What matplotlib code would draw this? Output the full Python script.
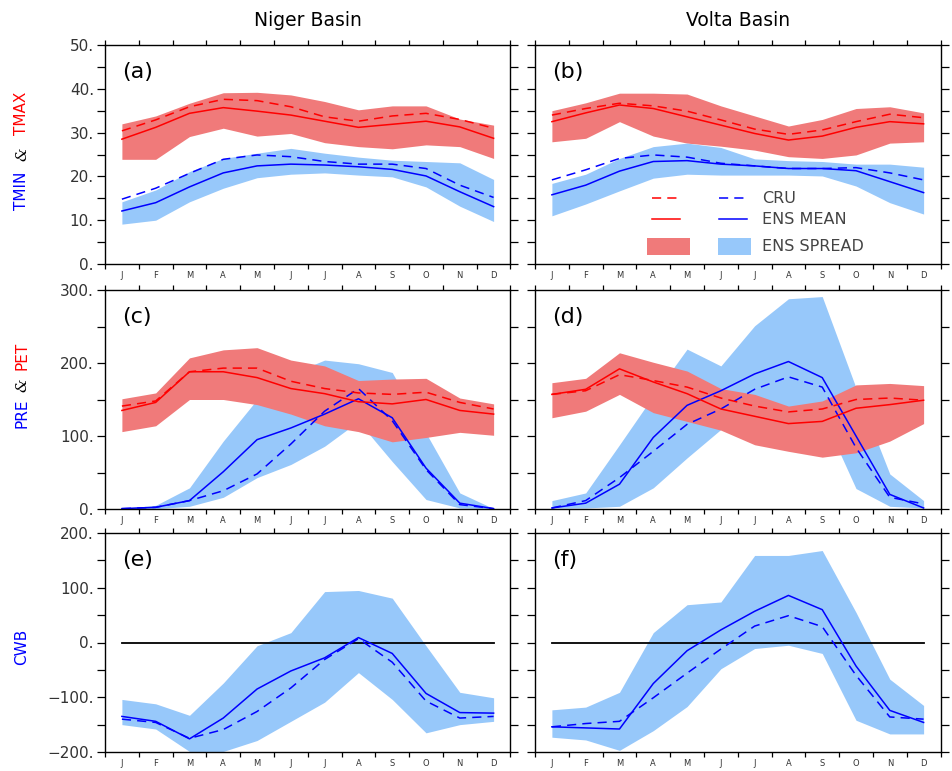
import numpy as np
import matplotlib
matplotlib.use("Agg")
import matplotlib.pyplot as plt
from matplotlib.patches import Rectangle

months = ["J", "F", "M", "A", "M", "J", "J", "A", "S", "O", "N", "D"]

# (a) Niger basin temperature
niger_tmax_cru = [30.4, 32.9, 35.9, 37.6, 37.3, 35.9, 33.6, 32.6, 33.8, 34.4, 33.0, 31.0]
niger_tmax_ens = [28.5, 31.2, 34.4, 35.7, 34.9, 34.0, 32.6, 31.2, 31.9, 32.6, 31.3, 28.7]
niger_tmax_hi = [32.0, 33.8, 36.7, 39.1, 39.2, 38.6, 37.1, 35.2, 36.1, 36.1, 33.1, 31.7]
niger_tmax_lo = [23.9, 23.9, 29.1, 31.0, 29.2, 29.8, 27.7, 26.8, 26.3, 27.2, 26.8, 24.1]
niger_tmin_cru = [14.8, 17.3, 20.7, 23.9, 24.9, 24.5, 23.4, 22.8, 22.8, 21.8, 18.0, 15.2]
niger_tmin_ens = [12.1, 14.0, 17.6, 20.8, 22.4, 22.8, 22.6, 22.2, 21.6, 20.1, 16.5, 13.1]
niger_tmin_hi = [14.2, 16.9, 21.1, 24.1, 25.3, 26.4, 25.3, 24.4, 23.7, 23.4, 23.1, 19.3]
niger_tmin_lo = [9.1, 10.0, 14.2, 17.3, 19.7, 20.5, 20.8, 20.3, 19.9, 17.6, 13.2, 9.7]

# (b) Volta basin temperature
volta_tmax_cru = [34.0, 35.5, 36.7, 36.1, 34.9, 32.9, 30.8, 29.6, 30.6, 32.5, 34.2, 33.4]
volta_tmax_ens = [32.5, 34.5, 36.3, 35.5, 33.6, 31.7, 29.8, 28.3, 29.2, 31.2, 32.5, 32.0]
volta_tmax_hi = [35.0, 36.8, 39.0, 39.0, 38.8, 36.1, 33.8, 31.5, 33.0, 35.5, 35.9, 34.5]
volta_tmax_lo = [27.9, 28.7, 32.5, 29.2, 27.6, 26.9, 26.0, 24.5, 24.1, 24.9, 27.6, 27.9]
volta_tmin_cru = [19.2, 21.5, 24.1, 24.9, 24.4, 23.0, 22.4, 21.8, 21.8, 22.0, 20.8, 19.2]
volta_tmin_ens = [15.8, 18.0, 21.2, 23.4, 23.6, 22.8, 22.4, 21.8, 21.8, 21.3, 18.8, 16.3]
volta_tmin_hi = [18.4, 20.5, 24.1, 26.8, 27.6, 26.6, 24.0, 23.6, 23.4, 22.8, 22.8, 22.1]
volta_tmin_lo = [11.0, 13.7, 16.7, 19.6, 20.5, 20.3, 20.3, 20.3, 20.1, 17.8, 14.0, 11.4]

# (c) Niger basin precipitation and PET
niger_pet_cru = [141, 148, 188, 193, 193, 175, 165, 159, 157, 160, 146, 137]
niger_pet_ens = [135, 146, 188, 188, 180, 165, 158, 147, 144, 150, 135, 130]
niger_pet_hi = [151, 159, 207, 218, 221, 204, 196, 176, 178, 179, 152, 144]
niger_pet_lo = [106, 114, 150, 150, 143, 130, 114, 106, 92, 98, 105, 101]
niger_pre_cru = [0.5, 2.3, 11.5, 25, 48, 89, 134, 165, 121, 54, 6, 0.5]
niger_pre_ens = [0.5, 2.3, 11.5, 51, 95, 111, 130, 151, 125, 56, 8, 0.5]
niger_pre_hi = [0.8, 5, 29, 93, 150, 185, 204, 199, 187, 104, 22, 0.5]
niger_pre_lo = [0.5, 0.5, 3.7, 16, 43, 61, 86, 120, 65, 13, 1.4, 0.5]

# (d) Volta basin precipitation and PET
volta_pet_cru = [157, 162, 184, 176, 167, 152, 141, 133, 137, 150, 152, 149]
volta_pet_ens = [157, 164, 192, 174, 158, 137, 127, 117, 120, 138, 143, 149]
volta_pet_hi = [173, 179, 214, 201, 189, 165, 157, 141, 148, 170, 172, 169]
volta_pet_lo = [125, 134, 157, 132, 120, 108, 88, 79, 71, 77, 93, 117]
volta_pre_cru = [1.4, 11.5, 43, 79, 116, 137, 164, 181, 167, 84, 16, 7]
volta_pre_ens = [1.4, 8, 34, 98, 142, 162, 185, 202, 180, 100, 20, 1.4]
volta_pre_hi = [11.5, 22, 88, 155, 219, 196, 251, 288, 291, 166, 48, 11.5]
volta_pre_lo = [1.4, 1.4, 3.7, 29, 70, 109, 135, 140, 130, 28, 3.7, 1.4]

# (e) Niger basin climatic water balance
niger_cwb_cru = [-140, -146, -175, -159, -126, -83, -31, 7, -36, -107, -138, -135]
niger_cwb_ens = [-135, -144, -176, -138, -85, -52, -28, 9, -20, -93, -128, -129]
niger_cwb_hi = [-104, -112, -133, -74, -6, 18, 93, 95, 81, -6, -91, -101]
niger_cwb_lo = [-150, -158, -199, -199, -179, -144, -109, -55, -104, -165, -150, -144]

# (f) Volta basin climatic water balance
volta_cwb_cru = [-154, -148, -144, -101, -56, -12, 30, 49, 29, -60, -136, -140]
volta_cwb_ens = [-154, -156, -158, -75, -15, 23, 57, 86, 60, -43, -124, -146]
volta_cwb_hi = [-123, -118, -91, 18, 69, 74, 159, 159, 168, 55, -67, -115]
volta_cwb_lo = [-173, -178, -197, -161, -117, -48, -11, -5, -20, -142, -167, -167]

RED = "#ff0000"
BLUE = "#0000ff"
RED_FILL = "#f07a7a"
BLUE_FILL = "#97c8fa"
TXT = "#333333"

plt.rcParams["font.family"] = ["DejaVu Sans"]

fig = plt.figure(figsize=(9.53, 7.71), dpi=100)
W, H = 953.0, 771.0

cols = [105, 535]
col_w = 405.5
rows = [(45, 264), (290, 509), (533, 752)]

x = np.arange(12)


def make_ax(ci, ri):
    x0 = cols[ci]
    top, bot = rows[ri]
    ax = fig.add_axes([x0 / W, 1 - bot / H, col_w / W, (bot - top) / H])
    ax.set_xlim(-0.5, 11.5)
    for s in ax.spines.values():
        s.set_linewidth(1.0)
    # month boundary ticks top and bottom, labels at month centres
    ax.set_xticks(np.arange(-0.5, 12, 1.0))
    ax.set_xticklabels([])
    ax.set_xticks(x, minor=True)
    ax.set_xticklabels(months, minor=True, fontsize=6, color=TXT)
    ax.tick_params(axis="x", which="major", direction="out", length=3.5,
                   width=0.9, top=True, bottom=True)
    ax.tick_params(axis="x", which="minor", length=0, pad=5)
    ax.tick_params(axis="y", which="both", direction="out", length=6,
                   width=0.9, left=True, right=True)
    ax.tick_params(axis="y", which="major", labelsize=11, labelcolor=TXT, pad=2)
    if ci == 1:
        ax.set_yticklabels([])
    return ax


def band(ax, lo, hi, color):
    ax.fill_between(x, lo, hi, color=color, linewidth=0)


def pair(ax, cru, ens, color):
    ax.plot(x, cru, color=color, lw=1.1, ls=(0, (6, 4)))
    ax.plot(x, ens, color=color, lw=1.1)


def fmt_ticks(ax, major, minor, lo, hi):
    ax.set_ylim(lo, hi)
    ax.set_yticks(np.arange(lo, hi + 1, major))
    ax.set_yticks(np.arange(lo, hi + 1, minor), minor=True)
    if ax.get_position().x0 < 0.3:
        ax.set_yticklabels(["%s%d." % ("\u2212" if v < 0 else "", abs(v))
                            for v in np.arange(lo, hi + 1, major)])


panels = {}

# temperature row
temp = [
    (niger_tmax_lo, niger_tmax_hi, niger_tmax_cru, niger_tmax_ens,
     niger_tmin_lo, niger_tmin_hi, niger_tmin_cru, niger_tmin_ens),
    (volta_tmax_lo, volta_tmax_hi, volta_tmax_cru, volta_tmax_ens,
     volta_tmin_lo, volta_tmin_hi, volta_tmin_cru, volta_tmin_ens),
]
for ci, d in enumerate(temp):
    ax = make_ax(ci, 0)
    band(ax, d[0], d[1], RED_FILL)
    band(ax, d[4], d[5], BLUE_FILL)
    pair(ax, d[6], d[7], BLUE)
    pair(ax, d[2], d[3], RED)
    fmt_ticks(ax, 10, 5, 0, 50)
    panels[(ci, 0)] = ax

# water row
water = [
    (niger_pet_lo, niger_pet_hi, niger_pet_cru, niger_pet_ens,
     niger_pre_lo, niger_pre_hi, niger_pre_cru, niger_pre_ens),
    (volta_pet_lo, volta_pet_hi, volta_pet_cru, volta_pet_ens,
     volta_pre_lo, volta_pre_hi, volta_pre_cru, volta_pre_ens),
]
for ci, d in enumerate(water):
    ax = make_ax(ci, 1)
    band(ax, d[4], d[5], BLUE_FILL)
    band(ax, d[0], d[1], RED_FILL)
    pair(ax, d[6], d[7], BLUE)
    pair(ax, d[2], d[3], RED)
    fmt_ticks(ax, 100, 50, 0, 300)
    panels[(ci, 1)] = ax

# balance row
cwb = [
    (niger_cwb_lo, niger_cwb_hi, niger_cwb_cru, niger_cwb_ens),
    (volta_cwb_lo, volta_cwb_hi, volta_cwb_cru, volta_cwb_ens),
]
for ci, d in enumerate(cwb):
    ax = make_ax(ci, 2)
    band(ax, d[0], d[1], BLUE_FILL)
    ax.plot([x[0], x[-1]], [0, 0], color="black", lw=1.3)
    pair(ax, d[2], d[3], BLUE)
    fmt_ticks(ax, 100, 50, -200, 200)
    panels[(ci, 2)] = ax

# panel letters
for (ci, ri), lab in zip([(0, 0), (1, 0), (0, 1), (1, 1), (0, 2), (1, 2)],
                         ["(a)", "(b)", "(c)", "(d)", "(e)", "(f)"]):
    panels[(ci, ri)].text(0.043, 0.875, lab, transform=panels[(ci, ri)].transAxes,
                          fontsize=16, ha="left", va="center", color="black")

# column titles
fig.text(308 / W, 1 - 21 / H, "Niger Basin", ha="center", va="center", fontsize=13.5)
fig.text(738 / W, 1 - 21 / H, "Volta Basin", ha="center", va="center", fontsize=13.5)


# coloured y labels, built from pieces stacked bottom to top
def ylabel_parts(y_center_px, parts):
    xf = 22 / W
    total = sum(p[2] for p in parts)
    y = y_center_px + total / 2.0
    for txt, col, h, style in parts:
        fam = ["DejaVu Serif"] if style == "italic" else ["DejaVu Sans"]
        fig.text(xf, 1 - (y - h / 2.0) / H, txt, rotation=90, color=col,
                 fontsize=11, ha="center", va="center", family=fam, style=style)
        y -= h


ylabel_parts(150, [("TMIN", BLUE, 50, "normal"), ("&", "black", 24, "italic"),
                   ("TMAX", RED, 58, "normal")])
ylabel_parts(384, [("PRE", BLUE, 38, "normal"), ("&", "black", 18, "italic"),
                   ("PET", RED, 40, "normal")])
ylabel_parts(647, [("CWB", BLUE, 40, "normal")])

# legend in panel (b)
axb = panels[(1, 0)]
tr = axb.transAxes
axb.plot([0.289, 0.358], [0.301, 0.301], color=RED, lw=1.1, ls=(0, (6, 4)), transform=tr)
axb.plot([0.454, 0.523], [0.301, 0.301], color=BLUE, lw=1.1, ls=(0, (6, 4)), transform=tr)
axb.plot([0.289, 0.358], [0.204, 0.204], color=RED, lw=1.1, transform=tr)
axb.plot([0.454, 0.523], [0.204, 0.204], color=BLUE, lw=1.1, transform=tr)
axb.add_patch(Rectangle((0.277, 0.041), 0.106, 0.078, transform=tr,
                        facecolor=RED_FILL, edgecolor="none"))
axb.add_patch(Rectangle((0.452, 0.041), 0.081, 0.078, transform=tr,
                        facecolor=BLUE_FILL, edgecolor="none"))
for yy, lab in [(0.301, "CRU"), (0.204, "ENS MEAN"), (0.080, "ENS SPREAD")]:
    axb.text(0.560, yy, lab, transform=tr, fontsize=11.5, color="#444444",
             ha="left", va="center")

fig.savefig("out.png", dpi=100)
